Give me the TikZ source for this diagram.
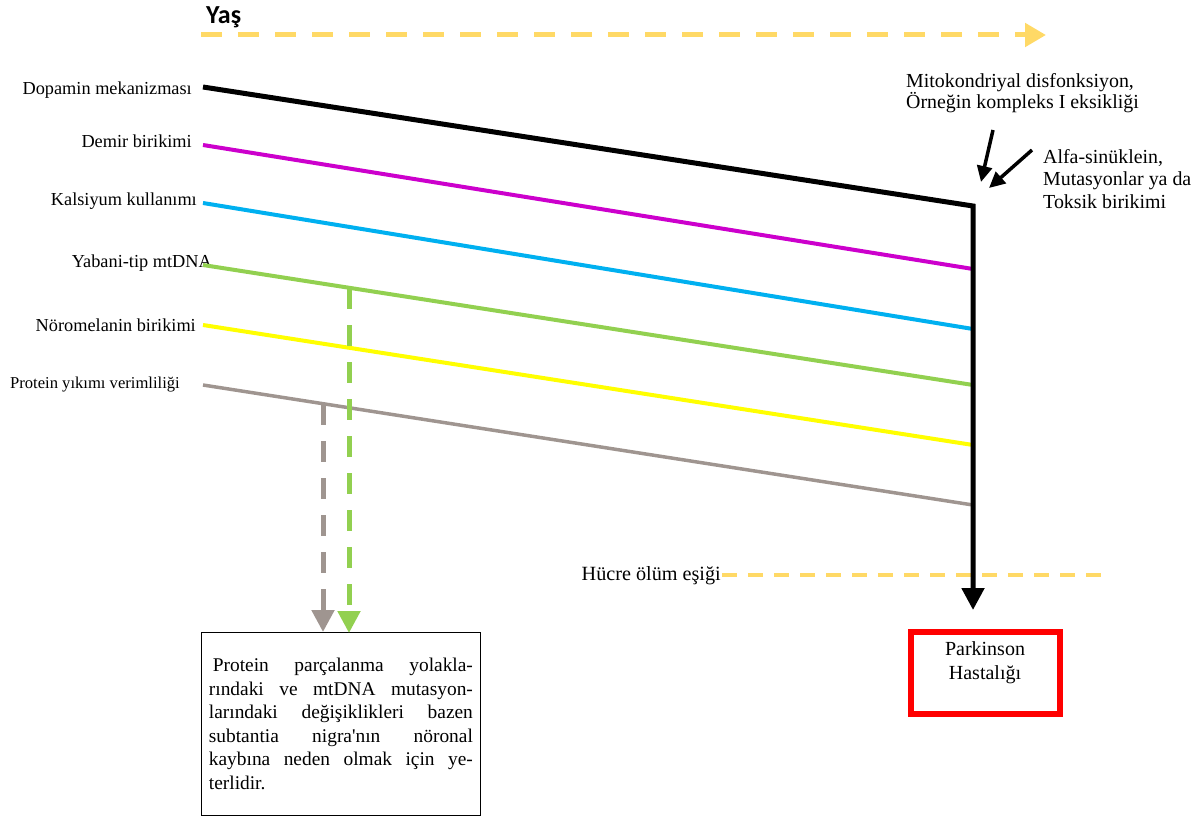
\documentclass[tikz,border=0pt]{standalone}
\usepackage{fontspec}
\setmainfont{Liberation Serif}
\newfontfamily\yasfont{Carlito}
\usepackage{xcolor}
\usetikzlibrary{arrows.meta, positioning}
\definecolor{yasyellow}{HTML}{FFD966}
\definecolor{demirpink}{HTML}{CC00CC}
\definecolor{kalsiyumblue}{HTML}{00B0F0}
\definecolor{mtgreen}{HTML}{92D050}
\definecolor{melaninyellow}{HTML}{FFFF00}
\definecolor{proteingray}{HTML}{9F9590}

\begin{document}
\begin{tikzpicture}[x=1pt, y=-1pt,
    lbl/.style={anchor=base east, inner sep=0pt, font=\fontsize{18.3}{22}\selectfont},
    factor/.style={line width=4pt},
    bigtip/.style={-{Triangle[length=22pt, width=22pt]}},
    yasdash/.style={dash pattern=on 21pt off 16pt}]
    \useasboundingbox (0,0) rectangle (1201,816);

    % Define the age axis
    \node[anchor=base west, inner sep=0pt, font=\yasfont\bfseries\fontsize{26}{28}\selectfont] (yas) at (206,24) {Yaş};
    \coordinate (yasS) at (201,35);
    \coordinate (yasE) at (1046,35);
    \draw[yasyellow, line width=5pt, yasdash, -{Triangle[length=21pt, width=23pt]}] (yasS) -- (yasE);

    % Labels on the left
    \node[lbl] (dop) at (192,94) {Dopamin mekanizması};
    \node[lbl] (dem) at (192,147) {Demir birikimi};
    \node[lbl] (kal) at (197,205) {Kalsiyum kullanımı};
    \node[lbl] (yab) at (212,267) {Yabani-tip mtDNA};
    \node[lbl] (nor) at (196,331) {Nöromelanin birikimi};
    \node[lbl, font=\fontsize{16.6}{20}\selectfont] (pro) at (180,388) {Protein yıkımı verimliliği};

    % Line ends
    \coordinate (dopS) at (203,87);
    \coordinate (dopE) at (973,206);
    \coordinate (demS) at (203,145);
    \coordinate (demE) at (973,269);
    \coordinate (kalS) at (203,203);
    \coordinate (kalE) at (973,329);
    \coordinate (yabS) at (203,265);
    \coordinate (yabE) at (973,385);
    \coordinate (norS) at (203,325);
    \coordinate (norE) at (973,445);
    \coordinate (proS) at (203,385);
    \coordinate (proE) at (973,505);

    % Decline lines
    \draw[factor, demirpink] (demS) -- (demE);
    \draw[factor, kalsiyumblue] (kalS) -- (kalE);
    \draw[factor, mtgreen] (yabS) -- (yabE);
    \draw[factor, melaninyellow] (norS) -- (norE);
    \draw[line width=3.5pt, proteingray] (proS) -- (proE);

    % Text box and dashed arrows
    \node[draw, line width=0.8pt, anchor=north west, text width=264pt, inner xsep=7.5pt, minimum height=183pt,
          align=justify, font=\fontsize{19.4}{23.5}\selectfont] (note) at (201,632)
        {\hspace*{4pt}Protein parçalanma yolakla-\linebreak rındaki ve mtDNA mutasyon-\linebreak larındaki değişiklikleri bazen\linebreak subtantia nigra\textquotesingle nın nöronal\linebreak kaybına neden olmak için ye-\linebreak terlidir.};
    \coordinate (mtS) at (349,288);
    \coordinate (mtE) at (349,633);
    \coordinate (prS) at (323,404);
    \coordinate (prE) at (323,632);
    \draw[line width=5pt, proteingray, yasdash, bigtip] (prS) -- (prE);
    \draw[line width=5pt, mtgreen, yasdash, bigtip] (mtS) -- (mtE);

    % Threshold
    \node[anchor=base east, inner sep=0pt, font=\fontsize{20.2}{24}\selectfont] (esik) at (721,580) {Hücre ölüm eşiği};
    \coordinate (esikE) at (1104,575);
    \draw[yasyellow, line width=3.5pt, dash pattern=on 15pt off 11pt] (esik.east |- esikE) ++(1pt,0) -- (esikE);

    % Dopamine line to disease
    \node[draw=red, line width=6pt, minimum width=149pt, minimum height=82pt, anchor=north west] (pd) at (908,629) {};
    \node[align=center, anchor=base, inner sep=0pt, font=\fontsize{20}{24}\selectfont] (pdtxt) at (985,679) {Parkinson\\Hastalığı};
    \coordinate (dopTip) at (973,610);
    \draw[line width=5pt, line join=miter, bigtip] (dopS) -- (dopE) -- (dopTip);

    % Hits
    \node[anchor=base west, inner sep=0pt, align=left, font=\fontsize{19.9}{21.5}\selectfont] (mito) at (906,108.5) {Mitokondriyal disfonksiyon,\\Örneğin kompleks I eksikliği};
    \node[anchor=base west, inner sep=0pt, align=left, font=\fontsize{19.9}{22.5}\selectfont] (alfa) at (1043,208) {Alfa-sinüklein,\\Mutasyonlar ya da\\Toksik birikimi};
    \coordinate (mitoS) at (993,130);
    \coordinate (mitoE) at (981,182);
    \coordinate (alfaS) at (1032,150);
    \coordinate (alfaE) at (989,188);
    \draw[line width=3.5pt, -{Triangle[length=16pt, width=15pt]}] (mitoS) -- (mitoE);
    \draw[line width=3.5pt, -{Triangle[length=16pt, width=15pt]}] (alfaS) -- (alfaE);
\end{tikzpicture}
\end{document}
